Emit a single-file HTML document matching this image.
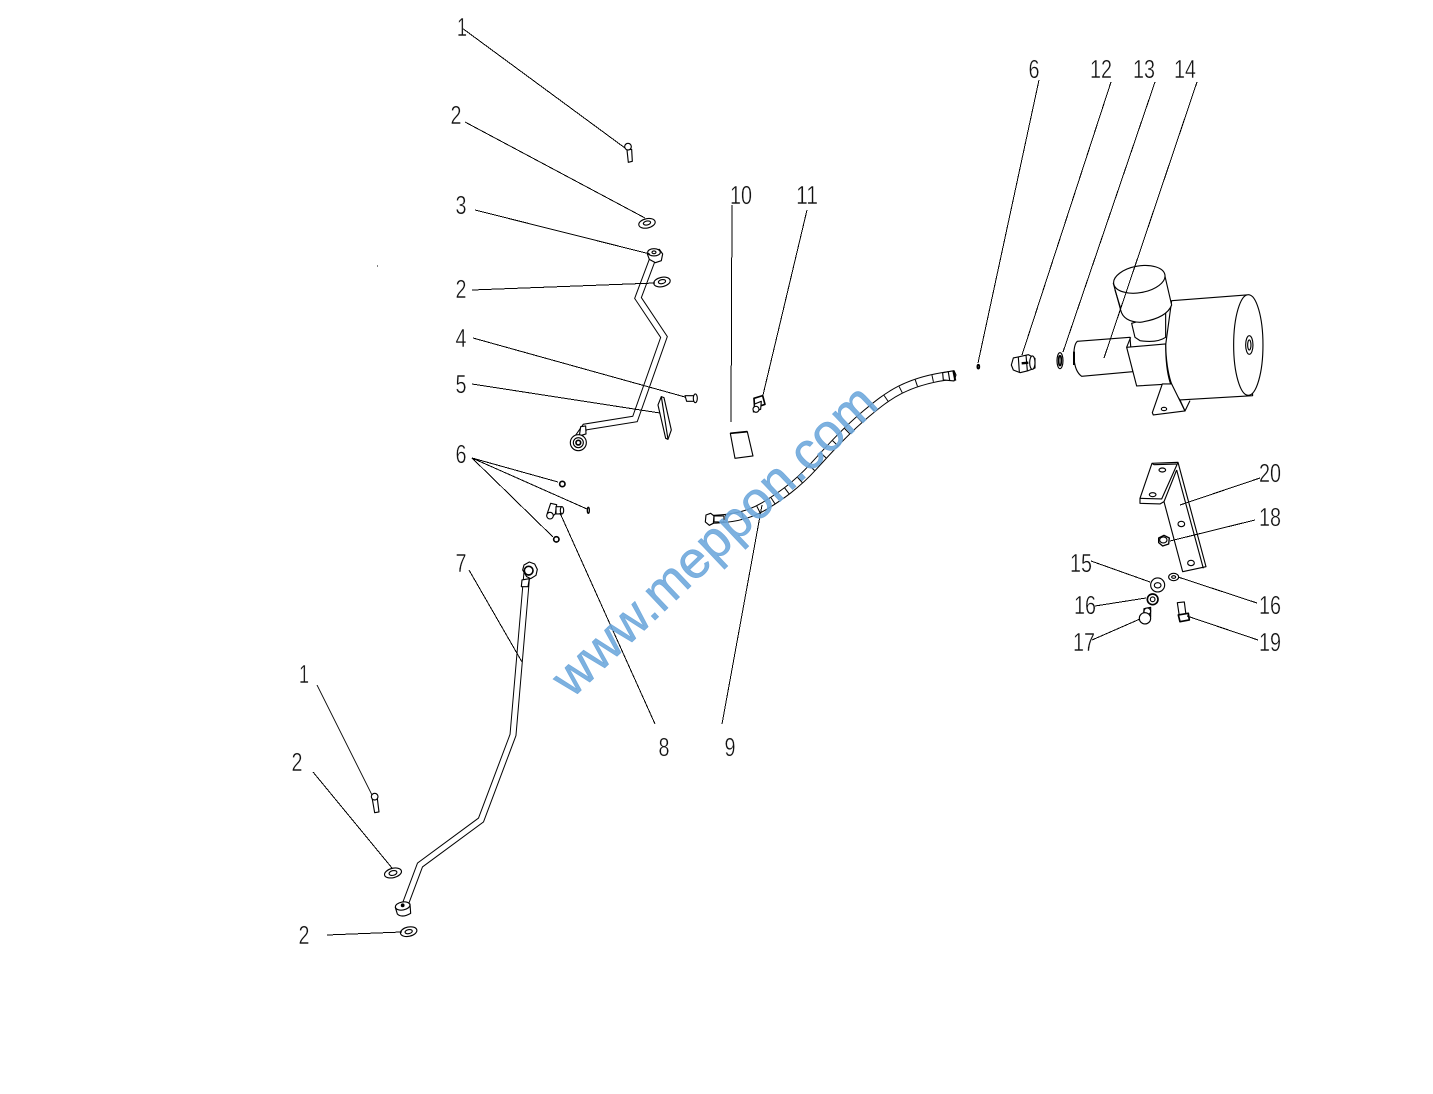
<!DOCTYPE html>
<html>
<head>
<meta charset="utf-8">
<style>
html,body{margin:0;padding:0;background:#fff;width:1433px;height:1094px;overflow:hidden}
svg{display:block}
.l line,.l path{stroke:#000;stroke-width:1;fill:none;shape-rendering:crispEdges}
.t text{font-family:"Liberation Sans",sans-serif;font-size:26px;fill:#111;text-anchor:middle;stroke:#fff;stroke-width:.4px}
.d *{fill:#fff;stroke:#000;stroke-width:3.4;stroke-linejoin:round}
.n{fill:none !important}
</style>
</head>
<body>
<svg width="1433" height="1094" viewBox="0 0 1433 1094" xmlns="http://www.w3.org/2000/svg">
<rect width="1433" height="1094" fill="#fff"/>

<!-- tubes -->
<g fill="none" stroke-linejoin="miter">
<polyline points="653,258 638,298 664,337 635,419 585,427 578,437" stroke="#000" stroke-width="7"/>
<polyline points="653,258 638,298 664,337 635,419 585,427 578,437" stroke="#fff" stroke-width="5"/>
<polyline points="527,572 513,735 481,820 420,865 405,905" stroke="#000" stroke-width="7"/>
<polyline points="527,572 513,735 481,820 420,865 405,905" stroke="#fff" stroke-width="5"/>
</g>

<!-- hose -->
<g transform="translate(690 360) scale(.3333)" fill="none">
<path d="M55 478C110 478 170 470 220 440S320 375 370 320S470 210 530 160S650 60 795 45" stroke="#000" stroke-width="27"/>
<path d="M55 478C110 478 170 470 220 440S320 375 370 320S470 210 530 160S650 60 795 45" stroke="#fff" stroke-width="21"/>
<path d="M55 478C110 478 170 470 220 440S320 375 370 320S470 210 530 160S650 60 795 45" stroke="#000" stroke-width="21" stroke-dasharray="3 48"/>
<g class="d"><path d="M48 465L62 460L72 468L70 490L58 496L46 486Z"/><path d="M72 468H102V486H72Z"/><path d="M758 38L792 32L798 45L792 63L760 60Z"/><path d="M775 36L779 60" class="n"/><path d="M790 32L796 62" class="n" style="stroke-width:6"/></g>
</g>

<!-- upper tube details & small parts (zoom coords) -->
<g class="d" transform="translate(540 130) scale(.3333)">
<!-- bolt 1 -->
<path d="M261 60L275 58L277 94L265 97Z"/><circle cx="264" cy="50" r="10"/>
<!-- washer 2 -->
<ellipse cx="321" cy="280" rx="25" ry="14" transform="rotate(-12 321 280)"/><ellipse cx="321" cy="279" rx="11" ry="6" transform="rotate(-12 321 279)"/>
<!-- eye -->
<path d="M322 372L358 358L368 372L364 392L346 398L328 388Z"/><ellipse cx="342" cy="367" rx="19" ry="11"/><ellipse cx="342" cy="367" rx="6" ry="4"/>
<!-- washer 2b -->
<ellipse cx="366" cy="456" rx="25" ry="14" transform="rotate(-12 366 456)"/><ellipse cx="366" cy="455" rx="11" ry="6" transform="rotate(-12 366 455)"/>
<!-- bolt 4 -->
<path d="M435 797H462V814H440Z"/><ellipse cx="466" cy="805" rx="6" ry="13"/>
<!-- plate 5 -->
<path d="M354 825L364 800L372 803L394 900L384 928L377 925Z"/>
<path d="M364 800L384 928" class="n"/>
<!-- fitting -->
<path d="M122 890L137 888L138 912L118 918Z"/>
<circle cx="115" cy="938" r="24"/><circle cx="115" cy="938" r="15"/><circle cx="115" cy="938" r="7" style="stroke-width:5"/>
<!-- part 11 -->
<path d="M642 805L668 797L675 823L644 834Z" style="stroke-width:5"/><path d="M644 822L664 814L662 838L640 846Z"/><circle cx="648" cy="838" r="9"/>
<!-- part 10 -->
<path d="M571 910L622 905L639 978L585 985Z"/><path d="M571 910L622 905" style="stroke-width:5" class="n"/>
</g>

<!-- lower tube details -->
<g class="d" transform="translate(360 780) scale(.3333)">
<path d="M37 58L52 56L57 96L44 98Z"/><circle cx="44" cy="50" r="10"/>
<ellipse cx="99" cy="279" rx="26" ry="14" transform="rotate(-14 99 279)"/><ellipse cx="99" cy="279" rx="12" ry="7" transform="rotate(-14 99 279)"/>
<ellipse cx="146" cy="455" rx="25" ry="14" transform="rotate(-12 146 455)"/><ellipse cx="146" cy="455" rx="11" ry="6" transform="rotate(-12 146 455)"/>
<path d="M106 382L112 402Q125 415 152 400L150 372L130 366Z"/>
<ellipse cx="128" cy="378" rx="22" ry="12" transform="rotate(-10 128 378)"/><circle cx="128" cy="376" r="4" style="fill:#000"/>
</g>

<!-- part 6,8, nut on tube 7 -->
<g class="d" transform="translate(500 470) scale(.3333)">
<circle cx="187" cy="42" r="8" style="stroke-width:5"/>
<ellipse cx="265" cy="121" rx="3" ry="9" style="stroke-width:4"/>
<circle cx="169" cy="208" r="8" style="stroke-width:5"/>
<path d="M152 100L170 104L166 132L150 145L142 130Z"/><circle cx="150" cy="137" r="10"/>
<path d="M168 110H186V132H168Z"/><ellipse cx="186" cy="121" rx="5" ry="11"/>
<path d="M68 300L72 285L88 276L104 282L112 298L108 316L92 326L80 320Z"/>
<circle cx="86" cy="302" r="13" style="stroke-width:5"/>
<path d="M66 330L88 326L84 350L64 350Z"/>
</g>

<!-- pump -->
<g class="d" transform="translate(1000 250) scale(.3333)">
<path d="M222 325Q220 285 232 274L390 262L398 365L245 379Q225 365 222 325Z"/>
<path d="M222 305V345" style="stroke-width:6" class="n"/>
<path d="M515 152L740 135L758 437L540 450Q500 400 497 285Z"/>
<ellipse cx="745" cy="285" rx="44" ry="151"/>
<ellipse cx="748" cy="285" rx="11" ry="28"/><ellipse cx="748" cy="285" rx="5" ry="15"/>
<path d="M395 220L497 190V262Q470 280 420 272L405 262Z"/>
<path d="M340 100L362 180Q370 215 420 217Q500 205 515 165L493 70Z"/>
<ellipse cx="418" cy="88" rx="78" ry="40" transform="rotate(-10 418 88)"/>
<path d="M345 120L362 175" class="n"/>
<path d="M380 292L497 282Q497 360 512 402L410 408Z"/>
<path d="M392 262L380 292" class="n"/>
<path d="M487 402L515 402L555 483L460 495L457 488Z"/>
<path d="M540 450L555 483L570 452" class="n"/>
<ellipse cx="492" cy="477" rx="8" ry="5"/>
<!-- washer 13 -->
<ellipse cx="180" cy="332" rx="9" ry="24"/><ellipse cx="180" cy="332" rx="4" ry="15" style="stroke-width:5"/>
<!-- part 12 -->
<path d="M40 324L85 314L105 325L105 354L85 362L60 368L40 360L34 345Z"/>
<path d="M55 322L58 366M78 315L82 362" class="n"/><path d="M65 340L85 338" class="n" style="stroke-width:7"/><ellipse cx="97" cy="338" rx="8" ry="20"/>
<!-- part 6 small -->
<ellipse cx="-65" cy="350" rx="3" ry="6" style="stroke-width:5"/>
</g>
<!-- small dash right side -->
<g class="d" transform="translate(1060 450) scale(.3333)">
<!-- bracket -->
<path d="M276 40L354 37L438 350L368 365L312 155L300 162L240 160V145Z"/>
<path d="M240 145L305 147L354 37" class="n"/><path d="M276 40L282 44L350 42" class="n"/>
<path d="M350 60L430 355" class="n"/><path d="M312 155L350 60" class="n"/>
<ellipse cx="307" cy="60" rx="10" ry="6"/><ellipse cx="278" cy="134" rx="10" ry="6"/>
<ellipse cx="364" cy="222" rx="10" ry="8"/><ellipse cx="393" cy="339" rx="10" ry="8"/>
<!-- 18 -->
<path d="M296 264L312 256L328 264L326 282L308 288L296 278Z" style="stroke-width:4"/><ellipse cx="310" cy="270" rx="11" ry="9"/>
<!-- 16r -->
<ellipse cx="341" cy="381" rx="15" ry="11"/><ellipse cx="341" cy="381" rx="6" ry="4"/>
<!-- 15 -->
<circle cx="293" cy="405" r="21"/><ellipse cx="293" cy="406" rx="10" ry="8"/>
<!-- 16 -->
<circle cx="278" cy="448" r="16" style="stroke-width:5"/><circle cx="278" cy="448" r="7"/>
<!-- 17 -->
<path d="M252 476L272 472L272 500L250 505Z"/><circle cx="262" cy="484" r="10"/><circle cx="255" cy="505" r="17"/>
<!-- 19 -->
<path d="M352 458L373 456L378 495L358 498Z"/><path d="M355 495L385 490L388 510L360 515Z" style="stroke-width:5"/>
</g>

<!-- leader lines -->
<g class="l">
<line x1="462" y1="28" x2="625" y2="148"/>
<line x1="465" y1="122" x2="645" y2="218"/>
<line x1="475" y1="210" x2="650" y2="254"/>
<line x1="472" y1="290" x2="655" y2="283"/>
<line x1="473" y1="338" x2="685" y2="397"/>
<line x1="472" y1="384" x2="660" y2="413"/>
<line x1="472" y1="458" x2="558" y2="482"/>
<line x1="472" y1="458" x2="587" y2="509"/>
<line x1="472" y1="458" x2="553" y2="537"/>
<line x1="469" y1="570" x2="522" y2="662"/>
<line x1="655" y1="724" x2="560" y2="513"/>
<line x1="722" y1="724" x2="762" y2="505"/>
<line x1="732" y1="205" x2="731" y2="422"/>
<line x1="807" y1="210" x2="763" y2="395"/>
<line x1="1039" y1="80" x2="978" y2="363"/>
<line x1="1111" y1="82" x2="1022" y2="355"/>
<line x1="1155" y1="82" x2="1063" y2="352"/>
<line x1="1197" y1="82" x2="1104" y2="358"/>
<line x1="1260" y1="478" x2="1180" y2="505"/>
<line x1="1255" y1="520" x2="1170" y2="541"/>
<line x1="1091" y1="561" x2="1150" y2="582"/>
<line x1="1095" y1="606" x2="1146" y2="598"/>
<line x1="1257" y1="603" x2="1178" y2="577"/>
<line x1="1092" y1="640" x2="1140" y2="619"/>
<line x1="1258" y1="640" x2="1187" y2="616"/>
<line x1="317" y1="685" x2="372" y2="795"/>
<line x1="313" y1="772" x2="392" y2="868"/>
<line x1="327" y1="935" x2="402" y2="932"/>
<line x1="377" y1="266" x2="378" y2="266"/>
</g>

<!-- labels -->
<g class="t">
<text x="462" y="36" textLength="10" lengthAdjust="spacingAndGlyphs">1</text>
<text x="456" y="124" textLength="11" lengthAdjust="spacingAndGlyphs">2</text>
<text x="461" y="214" textLength="11" lengthAdjust="spacingAndGlyphs">3</text>
<text x="461" y="298" textLength="11" lengthAdjust="spacingAndGlyphs">2</text>
<text x="461" y="347" textLength="11" lengthAdjust="spacingAndGlyphs">4</text>
<text x="461" y="393" textLength="11" lengthAdjust="spacingAndGlyphs">5</text>
<text x="461" y="463" textLength="11" lengthAdjust="spacingAndGlyphs">6</text>
<text x="461" y="572" textLength="11" lengthAdjust="spacingAndGlyphs">7</text>
<text x="304" y="683" textLength="10" lengthAdjust="spacingAndGlyphs">1</text>
<text x="297" y="771" textLength="11" lengthAdjust="spacingAndGlyphs">2</text>
<text x="304" y="944" textLength="11" lengthAdjust="spacingAndGlyphs">2</text>
<text x="664" y="756" textLength="11" lengthAdjust="spacingAndGlyphs">8</text>
<text x="730" y="756" textLength="11" lengthAdjust="spacingAndGlyphs">9</text>
<text x="741" y="204" textLength="22" lengthAdjust="spacingAndGlyphs">10</text>
<text x="807" y="204" textLength="22" lengthAdjust="spacingAndGlyphs">11</text>
<text x="1034" y="78" textLength="11" lengthAdjust="spacingAndGlyphs">6</text>
<text x="1101" y="78" textLength="22" lengthAdjust="spacingAndGlyphs">12</text>
<text x="1144" y="78" textLength="22" lengthAdjust="spacingAndGlyphs">13</text>
<text x="1185" y="78" textLength="22" lengthAdjust="spacingAndGlyphs">14</text>
<text x="1270" y="482" textLength="22" lengthAdjust="spacingAndGlyphs">20</text>
<text x="1270" y="526" textLength="22" lengthAdjust="spacingAndGlyphs">18</text>
<text x="1081" y="572" textLength="22" lengthAdjust="spacingAndGlyphs">15</text>
<text x="1085" y="614" textLength="22" lengthAdjust="spacingAndGlyphs">16</text>
<text x="1270" y="614" textLength="22" lengthAdjust="spacingAndGlyphs">16</text>
<text x="1084" y="651" textLength="22" lengthAdjust="spacingAndGlyphs">17</text>
<text x="1270" y="651" textLength="22" lengthAdjust="spacingAndGlyphs">19</text>
</g>

<!-- watermark -->
<text transform="translate(572 699) rotate(-43.5)" font-family="'Liberation Sans',sans-serif" font-size="52" fill="#6fa8dc" stroke="#6fa8dc" stroke-width=".6" fill-opacity=".9">www.meppon.com</text>
</svg>
</body>
</html>
